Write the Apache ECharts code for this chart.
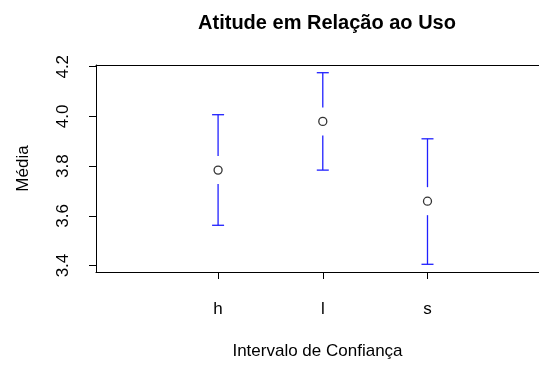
<!DOCTYPE html>
<html>
<head>
<meta charset="utf-8">
<script src="https://cdn.jsdelivr.net/npm/echarts@6/dist/echarts.min.js"></script>
<style>
    html, body { margin: 0; padding: 0; background: #fff; }
    #chart { width: 539px; height: 365px; }
</style>
</head>
<body>
<div id="chart"></div>
<script>
var categories = ['h', 'l', 's'];
var means = [3.784, 3.980, 3.659];
var lower = [3.562, 3.784, 3.405];
var upper = [4.007, 4.176, 3.910];
var yTicks = [3.4, 3.6, 3.8, 4.0, 4.2];

var chart = echarts.init(document.getElementById('chart'));

var xPos = categories.map(function(c, i) { return i + 1; });
var barData = xPos.map(function(x, i) { return [x, means[i], lower[i], upper[i]]; });
var pointData = xPos.map(function(x, i) { return [x, means[i]]; });

// vertical CI line with a gap round the mean, plus caps
function renderBar(params, api) {
    var x = api.value(0);
    var m = api.coord([x, api.value(1)]);
    var lo = api.coord([x, api.value(2)]);
    var hi = api.coord([x, api.value(3)]);
    var gap = 14, cap = 6;
    var style = { stroke: '#2020ff', lineWidth: 1.3 };
    return {
        type: 'group',
        children: [
            { type: 'line', shape: { x1: m[0], y1: m[1] - gap, x2: hi[0], y2: hi[1] }, style: style },
            { type: 'line', shape: { x1: m[0], y1: m[1] + gap, x2: lo[0], y2: lo[1] }, style: style },
            { type: 'line', shape: { x1: hi[0] - cap, y1: hi[1], x2: hi[0] + cap, y2: hi[1] }, style: style },
            { type: 'line', shape: { x1: lo[0] - cap, y1: lo[1], x2: lo[0] + cap, y2: lo[1] }, style: style }
        ]
    };
}

var option = {
    animation: false,
    textStyle: { fontFamily: 'Liberation Sans, Arial, sans-serif' },
    title: {
        text: 'Atitude em Relação ao Uso',
        left: 322,
        textAlign: 'center',
        top: 8,
        textStyle: { fontSize: 20, fontWeight: 'bold', color: '#000' }
    },
    grid: {
        left: 96,
        right: 0,
        top: 65,
        bottom: 89
    },
    xAxis: [{
        type: 'value',
        min: -0.166,
        max: 4.065,
        name: 'Intervalo de Confiança',
        nameLocation: 'middle',
        nameGap: 71,
        nameTextStyle: { fontSize: 17, color: '#000' },
        axisLine: { show: true, onZero: false, lineStyle: { color: '#000' } },
        axisTick: { show: true, length: 7, lineStyle: { color: '#000' }, customValues: xPos },
        axisLabel: {
            fontSize: 17, color: '#000', margin: 29,
            customValues: xPos,
            formatter: function(v) { return categories[Math.round(v) - 1] || ''; }
        },
        splitLine: { show: false }
    }, {
        // top edge of the box
        type: 'value',
        position: 'top',
        min: -0.166,
        max: 4.065,
        axisLine: { show: true, onZero: false, lineStyle: { color: '#000' } },
        axisTick: { show: false },
        axisLabel: { show: false },
        splitLine: { show: false }
    }],
    yAxis: {
        type: 'value',
        min: 3.374,
        max: 4.207,
        name: 'Média',
        nameLocation: 'middle',
        nameGap: 64,
        nameRotate: 90,
        nameTextStyle: { fontSize: 17, color: '#000' },
        axisLine: { show: true, onZero: false, lineStyle: { color: '#000' } },
        axisTick: { show: true, length: 7, lineStyle: { color: '#000' }, customValues: yTicks },
        axisLabel: {
            fontSize: 17, color: '#000', margin: 24, rotate: 90,
            customValues: yTicks,
            formatter: function(v) { return v.toFixed(1); }
        },
        splitLine: { show: false }
    },
    series: [
        {
            type: 'custom',
            renderItem: renderBar,
            data: barData,
            encode: { x: 0, y: [1, 2, 3] },
            z: 2
        },
        {
            type: 'scatter',
            data: pointData,
            symbol: 'circle',
            symbolSize: 8,
            itemStyle: { color: '#fff', borderColor: '#000', borderWidth: 1.3 },
            z: 3
        }
    ]
};
chart.setOption(option);
</script>
</body>
</html>
